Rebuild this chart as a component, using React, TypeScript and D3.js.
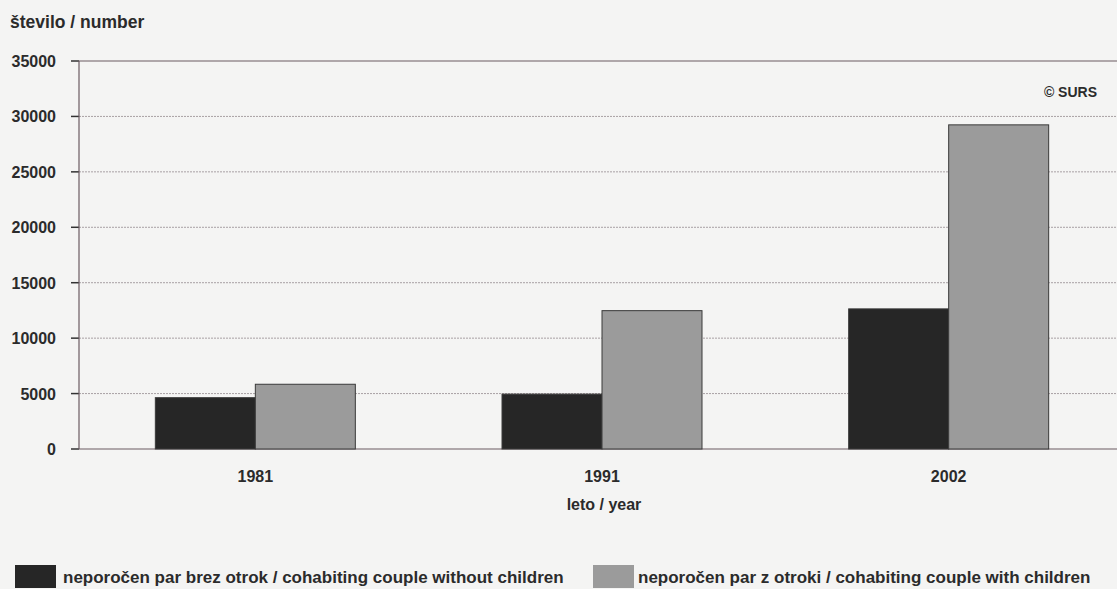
import React from "react";
import * as d3 from "d3";

const years = ["1981", "1991", "2002"];
const withoutChildren = [4630, 4950, 12640];
const withChildren = [5840, 12480, 29240];
const seriesNames = [
  "neporočen par brez otrok / cohabiting couple without children",
  "neporočen par z otroki / cohabiting couple with children",
];
const yTicks = [0, 5000, 10000, 15000, 20000, 25000, 30000, 35000];

const W = 1117, H = 589;
const left = 79, top = 61, bottom = 449;
const font = "'Liberation Sans', Arial, sans-serif";
const ink = "#2b2b2b";

export default function App() {
  const x = d3.scaleBand<string>().domain(years).range([82, 1122]).paddingInner(0).paddingOuter(0);
  const y = d3.scaleLinear().domain([0, 35000]).range([bottom, top]);
  const barW = 100;
  const colors = ["#262626", "#9b9b9b"];
  const series = [withoutChildren, withChildren];
  return (
    <svg width={W} height={H} style={{ position: "absolute", left: 0, top: 0, background: "#f4f4f3" }}>
      <rect x={0} y={0} width={W} height={H} fill="#f4f4f3" />
      <text x={10} y={28} fontFamily={font} fontSize={17.5} fontWeight="bold" fill={ink}>število / number</text>
      {yTicks.map((t) => (
        <g key={t}>
          <line x1={left} x2={W} y1={y(t)} y2={y(t)}
            stroke={t === 35000 || t === 0 ? "#6a5a62" : "#a8a0a4"}
            strokeWidth={t === 35000 || t === 0 ? 1.2 : 1}
            strokeDasharray={t === 35000 || t === 0 ? undefined : "2,1"} />
          <line x1={71} x2={left} y1={y(t)} y2={y(t)} stroke="#333" strokeWidth={1.5} />
          <text x={56} y={y(t) + 6} textAnchor="end" fontFamily={font} fontSize={16} fontWeight="bold" fill={ink}>{t}</text>
        </g>
      ))}
      <line x1={left} x2={left} y1={top} y2={bottom} stroke="#6a5a62" strokeWidth={1.2} />
      {years.map((yr, i) => {
        const c = (x(yr) as number) + x.bandwidth() / 2;
        return (
          <g key={yr}>
            {series.map((s, k) => (
              <rect key={k} x={c - barW + k * barW} y={y(s[i])} width={barW} height={bottom - y(s[i])}
                fill={colors[k]} stroke="#3a3a3a" strokeWidth={1} />
            ))}
            <text x={c} y={482} textAnchor="middle" fontFamily={font} fontSize={16} fontWeight="bold" fill={ink}>{yr}</text>
          </g>
        );
      })}
      <text x={604} y={510} textAnchor="middle" fontFamily={font} fontSize={16} fontWeight="bold" fill={ink}>leto / year</text>
      <text x={1097} y={97} textAnchor="end" fontFamily={font} fontSize={14} fontWeight="bold" fill={ink}>© SURS</text>
      {seriesNames.map((n, k) => {
        const bx = k === 0 ? 15 : 593;
        return (
          <g key={n}>
            <rect x={bx} y={565} width={41} height={23} fill={colors[k]} />
            <text x={k === 0 ? 63 : 638} y={583} fontFamily={font} fontSize={17} fontWeight="bold" fill={ink}>{n}</text>
          </g>
        );
      })}
    </svg>
  );
}
